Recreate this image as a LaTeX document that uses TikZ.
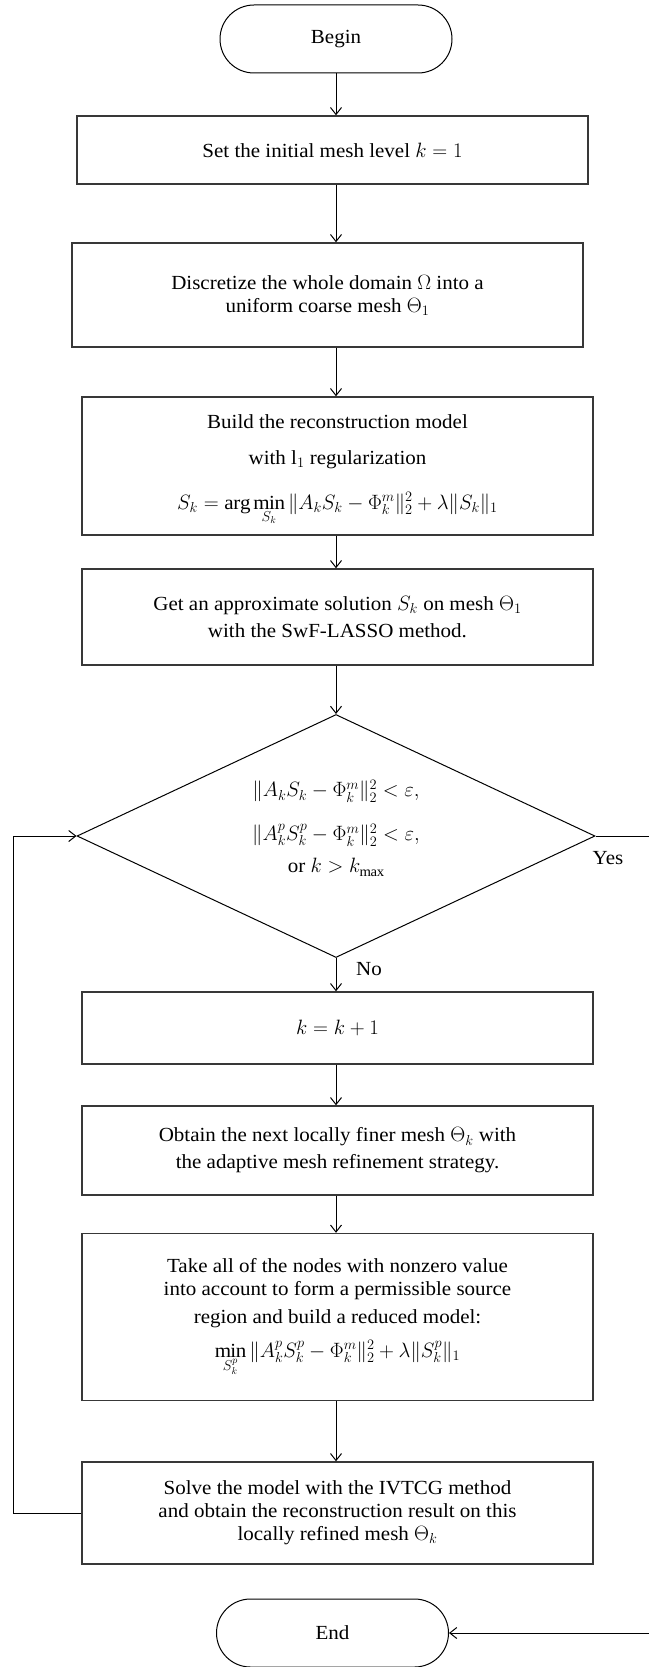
\documentclass[tikz,border=0pt]{standalone}
\usepackage{fontspec}
\setmainfont{Liberation Serif}[FakeStretch=1.05]
\usetikzlibrary{arrows.meta,shapes.geometric}
\begin{document}
\begin{tikzpicture}[x=1pt,y=-1pt,
  every node/.style={font=\fontsize{20}{23}\selectfont},
  procbox/.style={draw=black!78,line width=1.4pt,rectangle,minimum width=511pt,inner sep=0pt,align=center},
  termbox/.style={draw=black,line width=1pt,rectangle,rounded corners=34pt,minimum width=232pt,minimum height=68pt,inner sep=0pt},
  decbox/.style={draw=black,line width=1pt,diamond,aspect=2.13,minimum width=518pt,minimum height=243pt,inner sep=0pt,align=center},
  arr/.style={draw=black,line width=1pt,-{Straight Barb[length=7pt,width=11pt]}},
  lbl/.style={inner sep=0pt}]
\useasboundingbox (0,0) rectangle (648,1667);
\coordinate (ax) at (336,0);
\node[termbox] (begin) at (336,39) {Begin};
\node[procbox,minimum height=68pt] (b1) at (332.5,150) {Set the initial mesh level $k=1$};
\node[procbox,minimum height=104pt] (b2) at (327.5,295) {Discretize the whole domain $\Omega$ into a\\ uniform coarse mesh $\Theta_1$};
\node[procbox,minimum height=138pt] (b3) at (337.5,466) {\mbox{}\\[-2pt] Build the reconstruction model\\[13pt] with l$_1$ regularization\\[22pt] $\displaystyle S_k=\arg\min_{S_k}\|A_kS_k-\Phi_k^m\|_2^2+\lambda\|S_k\|_1$};
\node[procbox,minimum height=96pt] (b4) at (337.5,617) {Get an approximate solution $S_k$ on mesh $\Theta_1$\\[4pt] with the SwF-LASSO method.};
\node[decbox] (dia) at (336,836) {$\|A_kS_k-\Phi_k^m\|_2^2<\varepsilon,$\\[21pt] $\|A_k^pS_k^p-\Phi_k^m\|_2^2<\varepsilon,$\\[9pt] or $k>k_{\max}$\\[-4pt]\mbox{}};
\node[procbox,minimum height=72pt] (b5) at (337.5,1028) {$k=k+1$};
\node[procbox,minimum height=89pt] (b6) at (337.5,1150.5) {Obtain the next locally finer mesh $\Theta_k$ with\\[4pt] the adaptive mesh refinement strategy.};
\node[procbox,minimum height=167pt] (b7) at (337.5,1317) {Take all of the nodes with nonzero value\\ into account to form a permissible source\\[5pt] region and build a reduced model:\\[11pt] $\displaystyle\min_{S_k^p}\|A_k^pS_k^p-\Phi_k^m\|_2^2+\lambda\|S_k^p\|_1$};
\node[procbox,minimum height=102pt] (b8) at (337.5,1513) {Solve the model with the IVTCG method\\ and obtain the reconstruction result on this\\ locally refined mesh $\Theta_k$};
\node[termbox] (end) at (332.5,1633) {End};
\node[lbl] (yes) at (608,858) {Yes};
\node[lbl] (no) at (369,969) {No};
\coordinate (lp) at (13,1513);
\coordinate (cr) at (655,836);
\draw[arr] (begin.south) -- (begin.south |- b1.north);
\draw[arr] (b1.south -| ax) -- (b2.north -| ax);
\draw[arr] (b2.south -| ax) -- (b3.north -| ax);
\draw[arr] (b3.south -| ax) -- (b4.north -| ax);
\draw[arr] (b4.south -| ax) -- (dia.north);
\draw[arr] (dia.south) -- (b5.north -| ax);
\draw[arr] (b5.south -| ax) -- (b6.north -| ax);
\draw[arr] (b6.south -| ax) -- (b7.north -| ax);
\draw[arr] (b7.south -| ax) -- (b8.north -| ax);
\draw[arr] (b8.west) -- (lp) |- (dia.west);
\draw[arr] (dia.east) -- (cr) |- (end.east);
\end{tikzpicture}
\end{document}
